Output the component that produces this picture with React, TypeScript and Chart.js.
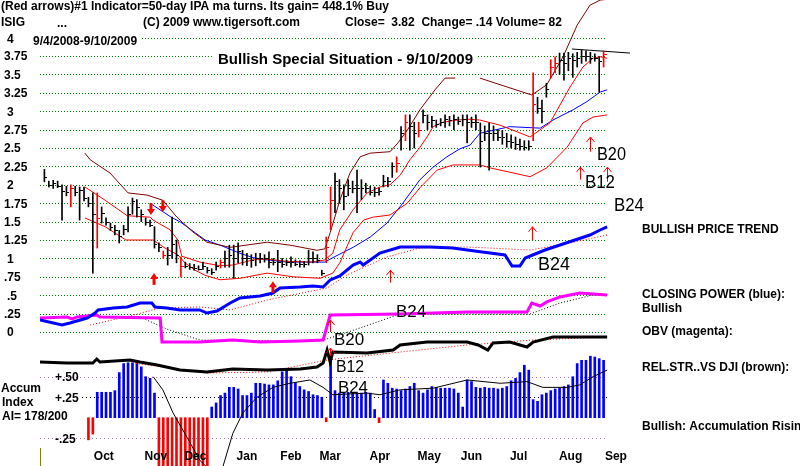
import React, { useEffect, useRef } from "react";
import { Chart, registerables } from "chart.js";
Chart.register(...registerables);

// ---- price bars (one bar per ~2 trading days, 9/4/2008 - 9/10/2009) ----
const highs = [
  2.21, 2.05, 2.06, 2.05, 2.0, 1.98, 2.0, 1.98, 1.97, 1.97,
  1.83, 1.89, 1.89, 1.7, 1.55, 1.48, 1.45, 1.38, 1.45, 1.7,
  1.82, 1.8, 1.66, 1.55, 1.52, 1.43, 1.21, 1.1, 1.15, 1.56,
  1.25, 1.02, 0.95, 0.93, 0.92, 0.9, 0.95, 0.88, 0.86, 0.95,
  0.98, 1.1, 1.18, 1.18, 1.21, 1.11, 1.07, 1.05, 1.07, 1.07,
  1.05, 1.09, 1.0, 1.11, 1.0, 0.98, 1.02, 0.98, 0.97, 0.96,
  1.11, 1.09, 1.05, 0.84, 1.29, 1.97, 2.16, 2.07, 2.0, 2.07,
  2.05, 2.2, 2.07, 2.02, 1.98, 1.97, 1.96, 2.13, 2.1, 2.3,
  2.38, 2.79, 2.95, 2.95, 2.85, 2.85, 3.02, 2.95, 2.93, 2.88,
  2.9, 2.95, 2.93, 2.95, 2.92, 2.95, 2.95, 2.92, 2.95, 2.84,
  2.8, 2.84, 2.8, 2.75, 2.74, 2.7, 2.68, 2.65, 2.62, 2.6,
  2.6, 3.52, 3.19, 3.15, 3.38, 3.7, 3.74, 3.79, 3.79, 3.8,
  3.78, 3.8, 3.83, 3.82, 3.8, 3.78, 3.74, 3.82,
];
const lows = [
  2.04, 1.97, 1.95, 1.96, 1.52, 1.85, 1.7, 1.85, 1.52, 1.78,
  1.7, 0.8, 1.14, 1.48, 1.45, 1.38, 1.32, 1.21, 1.32, 1.36,
  1.6, 1.56, 1.5, 1.45, 1.43, 1.14, 1.09, 1.0, 0.91, 1.0,
  0.94, 0.75, 0.87, 0.85, 0.84, 0.84, 0.85, 0.8, 0.78, 0.84,
  0.87, 0.88, 0.88, 0.73, 0.94, 0.91, 0.9, 0.88, 0.9, 0.94,
  0.95, 0.87, 0.91, 0.82, 0.88, 0.9, 0.88, 0.9, 0.88, 0.88,
  0.91, 0.94, 0.94, 0.77, 0.94, 1.39, 1.62, 1.75, 1.66, 1.85,
  1.89, 1.62, 1.8, 1.89, 1.86, 1.84, 1.86, 1.97, 1.97, 2.1,
  2.17, 2.47, 2.6, 2.47, 2.5, 2.65, 2.84, 2.75, 2.78, 2.78,
  2.8, 2.78, 2.8, 2.75, 2.82, 2.8, 2.57, 2.78, 2.75, 2.24,
  2.6, 2.2, 2.6, 2.6, 2.55, 2.51, 2.5, 2.48, 2.47, 2.47,
  2.47, 2.6, 2.97, 2.84, 3.19, 3.45, 3.52, 3.5, 3.42, 3.55,
  3.46, 3.6, 3.65, 3.68, 3.65, 3.68, 3.26, 3.6,
];
const closes = [
  2.1, 2.0, 2.02, 1.98, 1.92, 1.9, 1.95, 1.9, 1.93, 1.82,
  1.75, 1.6, 1.55, 1.62, 1.5, 1.42, 1.38, 1.3, 1.4, 1.6,
  1.78, 1.7, 1.6, 1.5, 1.45, 1.2, 1.15, 1.05, 1.05, 1.2,
  1.05, 0.9, 0.9, 0.88, 0.87, 0.86, 0.9, 0.84, 0.82, 0.9,
  0.95, 1.0, 1.05, 1.0, 1.1, 1.0, 1.0, 0.98, 1.0, 1.0,
  1.0, 0.95, 0.95, 0.95, 0.93, 0.95, 0.95, 0.93, 0.92, 0.92,
  1.0, 1.0, 0.98, 0.8, 1.15, 1.8, 2.05, 1.95, 1.85, 1.95,
  1.95, 1.95, 1.95, 1.95, 1.9, 1.9, 1.92, 2.05, 2.05, 2.25,
  2.3, 2.7, 2.85, 2.8, 2.7, 2.75, 2.95, 2.85, 2.88, 2.82,
  2.85, 2.9, 2.88, 2.9, 2.87, 2.9, 2.85, 2.85, 2.85, 2.6,
  2.7, 2.7, 2.7, 2.65, 2.65, 2.6, 2.58, 2.55, 2.53, 2.52,
  2.53, 3.1, 3.05, 3.0, 3.3, 3.6, 3.65, 3.7, 3.65, 3.72,
  3.7, 3.72, 3.75, 3.75, 3.72, 3.72, 3.68, 3.78,
];
const redBars = [6, 12, 27, 31, 40, 64, 65, 80, 82, 85, 111, 115, 116, 127];

// ---- bands / moving average on price scale: [bar index, price] ----
const outerBand = [
  [9.2, 2.43], [10.4, 2.34], [14.9, 2.16], [19, 1.89], [23.3, 1.86], [26.9, 1.79], [30.1, 1.56],
  [33.7, 1.36], [36.9, 1.22], [42.2, 1.15], [50.6, 1.22], [55.8, 1.18], [61.9, 1.11], [63.7, 1.13],
  [64.9, 1.35], [67.1, 1.79], [69.4, 2.16], [71.7, 2.38], [74, 2.43], [78.5, 2.45], [80.3, 2.57],
  [82.4, 2.74], [85.3, 3.02], [88.7, 3.29], [91, 3.45], [93.3, 3.45], [95, null], [98.9, 3.45],
  [103.5, 3.36], [110.7, 3.22], [114.1, 3.36], [117.8, 3.74], [121, 4.17], [123.9, 4.44],
  [126.2, 4.51], [127.8, 4.52],
];
const upperBand = [
  [9.2, 1.97], [13.8, 1.79], [18.8, 1.58], [24, 1.56], [24.7, 1.52], [28.5, 1.39], [30.3, 1.25],
  [31.2, 1.03], [35.3, 0.95], [39.9, 0.9], [42.8, 0.91], [47.4, 0.98], [50.6, 0.99], [55.1, 0.96],
  [61, 0.95], [63.7, 0.98], [65.5, 1.07], [67.1, 1.39], [70.1, 1.66], [73.3, 1.89], [76.2, 1.97],
  [78.5, 2.0], [80.8, 2.13], [83, 2.34], [85.3, 2.51], [86.9, 2.65], [88.3, 2.79], [90.5, 2.85],
  [93.7, 2.88], [96.7, 2.89], [98.9, 2.88], [103.5, 2.81], [110.3, 2.65], [114.8, 2.84],
  [119.4, 3.33], [122.3, 3.6], [124.6, 3.72], [126.2, 3.74], [127.8, 3.72],
];
const lowerBand = [
  [9.2, 1.55], [13.8, 1.43], [18.5, 1.25], [24.7, 1.25], [27.4, 1.14], [30.3, 1.05], [31.9, 0.94],
  [34.2, 0.84], [36.5, 0.77], [39.9, 0.71], [44.4, 0.73], [50.6, 0.8], [56.5, 0.75], [62.6, 0.73],
  [65.5, 0.8], [67.1, 0.94], [70.1, 1.35], [72.5, 1.52], [74.6, 1.56], [78.5, 1.59], [82.4, 1.75],
  [85.3, 1.96], [89.2, 2.2], [92.8, 2.27], [96, 2.27], [98.9, 2.27], [101.2, 2.23], [110.3, 2.11],
  [114.1, 2.23], [118.7, 2.51], [122.3, 2.84], [124.6, 2.92], [127.8, 2.95],
];
const movingAvg = [
  [24, 1.75], [28.8, 1.56], [31, 1.49], [34.2, 1.35], [36.5, 1.25], [39.9, 1.18], [44.4, 1.07],
  [47.4, 1.01], [50.6, 0.98], [55.1, 0.95], [61, 0.95], [63.7, 0.95], [65.5, 1.01], [70.1, 1.15],
  [74, 1.29], [77.8, 1.48], [81.4, 1.75], [85.3, 2.07], [88.3, 2.24], [91.4, 2.38], [94.4, 2.49],
  [96.7, 2.54], [98.9, 2.7], [105.7, 2.79], [112.6, 2.77], [115.5, 2.88], [120.1, 3.02],
  [123.2, 3.13], [126.2, 3.26], [127.8, 3.29],
];
const trendLine = [[119.8, 3.845], [133, 3.79]];

// ---- lower indicators (read on the same left scale) ----
const closingPower = [
  [-1, 0.163], [4, 0.095], [5.8, 0.122], [9.7, 0.19], [11.5, 0.258], [12.2, 0.3], [15.6, 0.326],
  [18.8, 0.34], [21.7, 0.394], [24.4, 0.394], [25.1, 0.34], [27.8, 0.326], [30.8, 0.3], [35.3, 0.3],
  [36.9, 0.258], [39.2, 0.285], [42.2, 0.394], [44.4, 0.462], [49, 0.489], [51.9, 0.53],
  [53.5, 0.598], [58.1, 0.611], [61, 0.625], [63.3, 0.611], [64.9, 0.707], [67.1, 0.761],
  [70.1, 0.91], [71.7, 0.951], [72.4, 0.91], [76.2, 1.073], [80.8, 1.155], [87.6, 1.155],
  [92.8, 1.141], [96, 1.114], [101.2, 1.073], [104.6, 1.046], [106.2, 0.897], [108, 0.897],
  [109.2, 1.005], [113.7, 1.114], [117.1, 1.182], [120.5, 1.25], [123.9, 1.318], [126.2, 1.386],
  [127.8, 1.427],
];
const closingPowerMA = [
  [10.4, 0.095], [19.4, 0.217], [26.3, 0.326], [35.3, 0.34], [42.2, 0.3], [50.6, 0.435],
  [64.2, 0.598], [68.7, 0.774], [77.8, 1.019], [85.3, 1.141], [96, 1.155], [110.3, 1.114],
  [119.4, 1.21], [127.8, 1.318],
];
const obv = [
  [-1, 0.19], [5.1, 0.204], [6.3, 0.177], [7.4, 0.204], [11.9, 0.231], [12.6, 0.204],
  [26.3, 0.19], [26.7, -0.136], [35.3, -0.136], [42.8, -0.109], [49, -0.136], [58.1, -0.122],
  [63.3, -0.109], [64.4, 0.122], [64.9, 0.231], [80.8, 0.245], [96, 0.272], [109.6, 0.272],
  [110.7, 0.394], [112.6, 0.353], [114.1, 0.408], [117.1, 0.476], [121.6, 0.53], [127.8, 0.503],
];
const obvMA = [
  [21.7, 0.204], [27.8, 0.04], [35.3, -0.109], [62.6, -0.122], [67.1, -0.04], [80.8, 0.245],
  [110.3, 0.245], [117.1, 0.394], [124.6, 0.503], [127.8, 0.503],
];
const relStrength = [
  [-1, -0.408], [5.1, -0.421], [11, -0.421], [11.9, -0.367], [12.6, -0.408], [19.4, -0.38],
  [21.7, -0.408], [25.6, -0.448], [30.8, -0.516], [36.9, -0.543], [42.8, -0.503], [50.6, -0.516],
  [58.1, -0.503], [61.9, -0.476], [63.3, -0.421], [64.2, -0.245], [64.9, -0.408], [65.5, -0.272],
  [73.3, -0.285], [79.2, -0.245], [80.8, -0.177], [86.9, -0.136], [96, -0.136], [98.5, -0.177],
  [100.7, -0.245], [101.9, -0.149], [105.7, -0.136], [109.6, -0.204], [111, -0.136],
  [115.5, -0.068], [121.6, -0.068], [127.8, -0.068],
];
const relStrengthMA = [
  [20.1, -0.421], [36.9, -0.557], [50.6, -0.543], [64.2, -0.38], [80.8, -0.272], [96, -0.177],
  [111, -0.109], [127.8, -0.068],
];

// ---- accumulation index ----
const accum = [
  null, null, null, null, null, null, null, null, null, null,
  -0.27, -0.2, 0.31, 0.31, 0.31, 0.31, 0.33, 0.55, 0.66, 0.67,
  0.67, 0.67, 0.62, 0.5, 0.48, 0.3, -0.7, -0.7, -0.7, -0.7,
  -0.7, -0.7, -0.7, -0.7, -0.7, -0.7, -0.7, -0.7, 0.13, 0.18,
  0.27, 0.3, 0.37, 0.37, 0.35, 0.27, 0.27, 0.3, 0.42, 0.42,
  0.41, 0.4, 0.4, 0.45, 0.56, 0.58, 0.5, 0.43, 0.38, 0.34,
  0.32, 0.28, 0.27, 0.25, -0.05, 0.7, 0.33, 0.3, 0.3, 0.31,
  0.3, 0.3, 0.3, 0.31, 0.3, 0.1, -0.06, 0.46, 0.42, 0.36,
  0.35, 0.33, 0.35, 0.38, 0.42, 0.33, 0.3, 0.34, 0.38, 0.37,
  0.36, 0.36, 0.36, 0.35, 0.3, 0.13, 0.46, 0.44, 0.37, 0.36,
  0.37, 0.36, 0.36, 0.35, 0.36, 0.38, 0.45, 0.48, 0.55, 0.64,
  0.58, 0.22, 0.2, 0.28, 0.3, 0.33, 0.35, 0.36, 0.38, 0.4,
  0.5, 0.66, 0.7, 0.7, 0.75, 0.74, 0.72, 0.7,
];
const accumMA = [
  [24.7, 0.5], [26.9, 0.34], [29.2, 0.06], [32.4, -0.24], [35.3, -0.52], [37.6, -0.64],
  [40.3, -0.64], [42.8, -0.19], [45.1, 0.06], [48.3, 0.25], [51.9, 0.37], [55.8, 0.42],
  [60.3, 0.46], [63.3, 0.37], [65.5, 0.28], [73.3, 0.3], [76.2, 0.28], [80.8, 0.34],
  [88.3, 0.36], [96, 0.46], [103.5, 0.42], [109.6, 0.44], [113.2, 0.37], [118.7, 0.37],
  [121.6, 0.4], [124.6, 0.5], [127.8, 0.58],
];

// ---- signals: [bar index, tip value, tail value] ----
const thinArrows = [
  [123.9, 2.65, 2.45], [121.6, 2.24, 2.07], [127.8, 2.24, 2.04], [110.7, 1.43, 1.25],
  [78.5, 0.84, 0.67], [64.9, 0.163, 0.0], [64.9, -0.217, -0.326],
];
const boldArrows = [
  [24.9, 0.8, 0.64], [51.9, 0.69, 0.53], [24.2, 1.59, 1.75], [26.9, 1.63, 1.79],
];
const signalLabels = ["B20", "B12", "B24", "B24", "B20", "B12", "B24", "B24"];

// ---- tick labels ----
const priceTicks = [4, 3.75, 3.5, 3.25, 3, 2.75, 2.5, 2.25, 2, 1.75, 1.5, 1.25, 1, 0.75, 0.5, 0.25, 0];
const priceTickLabels = ["4", "3.75", "3.5", "3.25", "3", "2.75", "2.5", "2.25", "2", "1.75", "1.5", "1.25", "1", ".75", ".5", ".25", "0"];
const accumTicks = [0.5, 0.25, -0.25];
const accumTickLabels = ["+.50", "+.25", "-.25"];
const monthLabels = ["Oct", "Nov", "Dec", "Jan", "Feb", "Mar", "Apr", "May", "Jun", "Jul", "Aug", "Sep"];
const monthPos = [13.5, 25.3, 34.3, 46, 56, 64.9, 76.2, 87.4, 97, 107.7, 119.5, 129.8];

const FONT = "bold 12px 'Liberation Sans', Arial, sans-serif";

const overlay = {
  id: "overlay",
  beforeDatasetsDraw(chart: any) {
    const { ctx, scales } = chart;
    const x = scales.x, y = scales.y, yA = scales.yA;
    ctx.save();
    ctx.lineWidth = 1;
    ctx.setLineDash([1, 2]);
    ctx.strokeStyle = "#008000";
    priceTicks.forEach((v) => {
      const py = Math.round(y.getPixelForValue(v)) + 0.5;
      ctx.beginPath();
      ctx.moveTo(40, py);
      ctx.lineTo(607, py);
      ctx.stroke();
    });
    accumTicks.forEach((v) => {
      const py = Math.round(yA.getPixelForValue(v)) + 0.5;
      ctx.strokeStyle = v === 0.25 ? "#000000" : "#a070a0";
      ctx.setLineDash([1, 3]);
      ctx.beginPath();
      ctx.moveTo(v === 0.25 ? 82 : 40, py);
      ctx.lineTo(607, py);
      ctx.stroke();
    });
    ctx.setLineDash([]);
    ctx.strokeStyle = "#808000";
    ctx.beginPath();
    ctx.moveTo(40.5, 448);
    ctx.lineTo(40.5, 466);
    ctx.stroke();
    ctx.restore();
  },
  afterDatasetsDraw(chart: any) {
    const { ctx, scales } = chart;
    const x = scales.x, y = scales.y, yA = scales.yA;
    ctx.save();
    // close ticks
    closes.forEach((c, i) => {
      const px = x.getPixelForValue(i);
      const py = y.getPixelForValue(c);
      ctx.fillStyle = redBars.includes(i) ? "#ff0000" : "#000000";
      ctx.fillRect(Math.round(px), Math.round(py), 3, 1);
    });
    // thin arrows
    ctx.strokeStyle = "#ff0000";
    ctx.lineWidth = 1;
    thinArrows.forEach(([i, tip, tail]) => {
      const px = Math.round(x.getPixelForValue(i)) + 0.5;
      const ty = y.getPixelForValue(tip), by = y.getPixelForValue(tail);
      const d = by > ty ? 1 : -1;
      ctx.beginPath();
      ctx.moveTo(px, by); ctx.lineTo(px, ty);
      ctx.moveTo(px - 4, ty + 5 * d); ctx.lineTo(px, ty); ctx.lineTo(px + 4, ty + 5 * d);
      ctx.stroke();
    });
    // bold arrows
    ctx.fillStyle = "#ff0000";
    ctx.lineWidth = 3;
    boldArrows.forEach(([i, tip, tail]) => {
      const px = x.getPixelForValue(i);
      const ty = y.getPixelForValue(tip), by = y.getPixelForValue(tail);
      const d = by > ty ? 1 : -1;
      ctx.beginPath();
      ctx.moveTo(px, by); ctx.lineTo(px, ty + 4 * d);
      ctx.stroke();
      ctx.beginPath();
      ctx.moveTo(px - 4, ty + 6 * d); ctx.lineTo(px, ty); ctx.lineTo(px + 4, ty + 6 * d);
      ctx.closePath();
      ctx.fill();
    });

    const text = (s: string, tx: number, cy: number, font = FONT, maxW?: number, bg = false, color = "#000") => {
      ctx.font = font;
      ctx.textBaseline = "middle";
      ctx.textAlign = "left";
      const w = Math.min(ctx.measureText(s).width, maxW ?? 9999);
      if (bg) {
        ctx.fillStyle = "#ffffff";
        ctx.fillRect(tx - 4, cy - 8, w + 8, 16);
      }
      ctx.fillStyle = color;
      if (maxW) ctx.fillText(s, tx, cy, maxW);
      else ctx.fillText(s, tx, cy);
    };

    // header
    text("(Red arrows)#1 Indicator=50-day IPA ma turns. Its gain= 448.1% Buy", 1, 7, FONT, 389);
    text("ISIG", 1, 23);
    text("...", 57, 24);
    text("(C) 2009 www.tigersoft.com", 143, 23, FONT, 180);
    text("Close=  3.82  Change= .14 Volume= 82", 345, 23, FONT, 222);
    text("9/4/2008-9/10/2009", 33, 42, FONT, 110, true);
    text("Bullish Special Situation - 9/10/2009", 218, 60, "bold 15px 'Liberation Sans', Arial, sans-serif", 255, true);

    // axis labels
    priceTicks.forEach((v, k) => {
      const cy = y.getPixelForValue(v) + (v === 4 ? 2 : 1);
      text(priceTickLabels[k], priceTickLabels[k].length > 2 ? 4 : 7, cy);
    });
    accumTicks.forEach((v, k) => text(accumTickLabels[k], 55, yA.getPixelForValue(v) + 1));
    monthLabels.forEach((m, k) => {
      ctx.font = FONT;
      const w = ctx.measureText(m).width;
      text(m, x.getPixelForValue(monthPos[k]) - w / 2, 457);
    });
    text("Accum", 1, 389);
    text("Index", 2, 403);
    text("AI= 178/200", 2, 417, FONT, 71);

    // right side
    text("BULLISH PRICE TREND", 642, 230, FONT, 140);
    text("CLOSING POWER (blue):", 642, 295, FONT, 143);
    text("Bullish", 642, 309);
    text("OBV (magenta):", 642, 332);
    text("REL.STR..VS DJI (brown):", 642, 368, FONT, 150);
    text("Bullish: Accumulation Rising", 642, 427, FONT, 170);

    // signal labels
    const BF = "19px 'Liberation Sans', Arial, sans-serif";
    const BF2 = "17px 'Liberation Sans', Arial, sans-serif";
    text(signalLabels[0], 597, 155, BF, 29);
    text(signalLabels[1], 585, 183, BF, 30);
    text(signalLabels[2], 614, 206, BF, 30);
    text(signalLabels[3], 538, 265, BF, 32);
    text(signalLabels[4], 334, 340, BF2, 31);
    text(signalLabels[5], 336, 367, BF2, 28);
    text(signalLabels[6], 338, 388, BF2, 30);
    text(signalLabels[7], 396, 312, BF2, 31);
    ctx.restore();
  },
};

const pts = (a: number[][]) => a.map((p) => ({ x: p[0], y: p[1] }));
const line = (a: number[][], color: string, width: number, extra: any = {}) => ({
  type: "line",
  data: pts(a),
  borderColor: color,
  borderWidth: width,
  pointRadius: 0,
  tension: 0,
  yAxisID: "y",
  order: 2,
  ...extra,
});

export default function App() {
  const ref = useRef<HTMLCanvasElement>(null);
  useEffect(() => {
    if (!ref.current) return;
    const chart = new Chart(ref.current, {
      type: "bar",
      data: {
        datasets: [
          {
            type: "bar",
            data: highs.map((h, i) => ({ x: i, y: [lows[i], h] })),
            backgroundColor: highs.map((_, i) => (redBars.includes(i) ? "#ff0000" : "#000000")),
            barThickness: 1,
            grouped: false,
            borderWidth: 0,
            yAxisID: "y",
            order: 0,
          } as any,
          line(outerBand, "#800000", 1),
          line(upperBand, "#ff0000", 1),
          line(lowerBand, "#ff0000", 1),
          line(movingAvg, "#0000ff", 1),
          line(trendLine, "#000000", 1, { clip: false }),
          line(closingPowerMA, "#ff0000", 1, { borderDash: [1, 2], order: 4 }),
          line(closingPower, "#0000ff", 3, { order: 3 }),
          line(obvMA, "#000000", 1, { borderDash: [1, 2], order: 4 }),
          line(obv, "#ff00ff", 3, { order: 3 }),
          line(relStrengthMA, "#ff0000", 1, { borderDash: [1, 2], order: 4 }),
          line(relStrength, "#000000", 3, { order: 3 }),
          {
            type: "bar",
            data: accum.map((v, i) => ({ x: i, y: v })),
            backgroundColor: accum.map((v) => (v !== null && v < 0 ? "#ff0000" : "#0000ff")),
            barThickness: 2,
            grouped: false,
            borderWidth: 0,
            yAxisID: "yA",
            order: 6,
          } as any,
          line(accumMA, "#000000", 1, { yAxisID: "yA", order: 5 }),
        ] as any,
      },
      options: {
        animation: false,
        responsive: false,
        devicePixelRatio: 1,
        events: [],
        layout: { padding: { left: 40, right: 192, top: 0, bottom: 0 } },
        plugins: { legend: { display: false }, tooltip: { enabled: false } },
        scales: {
          x: { type: "linear", min: -1, max: 128, display: false, offset: false },
          y: { type: "linear", min: -1.8207, max: 4.5109, display: false },
          yA: { type: "linear", min: -0.589, max: 5.0939, display: false },
        },
      } as any,
      plugins: [overlay as any],
    });
    return () => chart.destroy();
  }, []);
  return (
    <div style={{ position: "fixed", left: 0, top: 0, width: 800, height: 466, background: "#fff" }}>
      <canvas ref={ref} width={800} height={466} style={{ display: "block" }} />
    </div>
  );
}
